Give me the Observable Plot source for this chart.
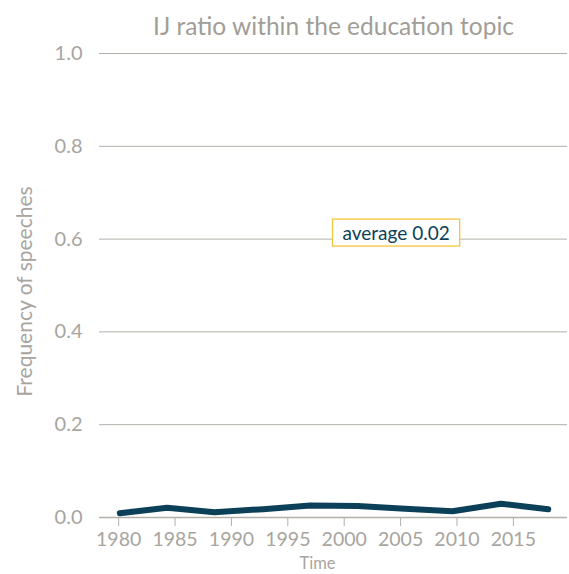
<!DOCTYPE html>
<html><head><meta charset="utf-8">
<script src="https://cdn.jsdelivr.net/npm/d3@7"></script>
<script src="https://cdn.jsdelivr.net/npm/@observablehq/plot@0.6"></script>
<style>body{margin:0;background:#fff;} svg{display:block;}</style>
</head><body><div id="chart"></div>
<script>
const years = [1980.1, 1984.3, 1988.5, 1992.8, 1997.0, 2001.2, 2005.4, 2009.6, 2013.9, 2018.1];
const ratio = [0.0093, 0.021, 0.0115, 0.018, 0.026, 0.025, 0.019, 0.0136, 0.0295, 0.018];
const xTicks = [1980, 1985, 1990, 1995, 2000, 2005, 2010, 2015];
const yTicks = [0, 0.2, 0.4, 0.6, 0.8, 1.0];
const annotation = [{x: 2004.6, y: 0.611, label: "average 0.02"}];
const title = "IJ ratio within the education topic";
const xLabel = "Time";
const yLabel = "Frequency of speeches";

const data = years.map((t, i) => ({t, v: ratio[i]}));
const gray = "#a8a49e";
const font = "Lato, 'Noto Sans', sans-serif";

const chart = Plot.plot({
  width: 569, height: 574,
  marginLeft: 99, marginRight: 2, marginTop: 53, marginBottom: 57,
  style: {fontFamily: font, background: "#fff", color: gray, fontSize: "17px"},
  x: {domain: [1978.3, 2019.8]},
  y: {domain: [0, 1]},
  marks: [
    Plot.gridY(yTicks.filter(d => d > 0), {stroke: "#b3afa9", strokeOpacity: 1, strokeWidth: 1}),
    Plot.ruleY([0], {stroke: "#b3afa9", strokeWidth: 1.3}),
    Plot.axisX({ticks: xTicks, tickFormat: d => String(d), tickSize: 9, tickPadding: 6, stroke: "#b3afa9", label: null, className: "xticks"}),
    Plot.axisY({ticks: yTicks, tickFormat: d3.format(".1f"), tickSize: 0, tickPadding: 17, label: null, className: "yticks"}),
    Plot.line(data, {x: "t", y: "v", stroke: "#0c3f58", strokeWidth: 6, strokeLinejoin: "round", strokeLinecap: "round", curve: "linear"}),
    Plot.text(annotation, {x: "x", y: "y", text: "label", fill: "#0c3f58", fontSize: 19, className: "annot"}),
    Plot.text([title], {frameAnchor: "top", lineAnchor: "middle", dy: -26, fontSize: 24.5, fill: "#a19d97"}),
    Plot.text([xLabel], {frameAnchor: "bottom", lineAnchor: "bottom", dy: 51, dx: -16, fontSize: 16.5, fill: gray}),
    Plot.text([yLabel], {frameAnchor: "left", textAnchor: "middle", lineAnchor: "middle", dx: -74, dy: 6, rotate: -90, fontSize: 21, fill: gray})
  ]
});
document.getElementById("chart").appendChild(chart);

d3.select(chart).selectAll("g.xticks text").attr("font-size", 19.5);
d3.select(chart).selectAll("g.yticks text").attr("font-size", 20);

// draw a box around the annotation text
d3.select(chart).selectAll("g.annot text").each(function() {
  const bb = this.getBBox();
  d3.select(this.parentNode).insert("rect", "text")
    .attr("transform", this.getAttribute("transform"))
    .attr("x", bb.x - 10).attr("y", bb.y - 2)
    .attr("width", bb.width + 20).attr("height", bb.height + 4)
    .attr("fill", "#fff").attr("stroke", "#f4c53e").attr("stroke-width", 1.3);
});
</script></body></html>
